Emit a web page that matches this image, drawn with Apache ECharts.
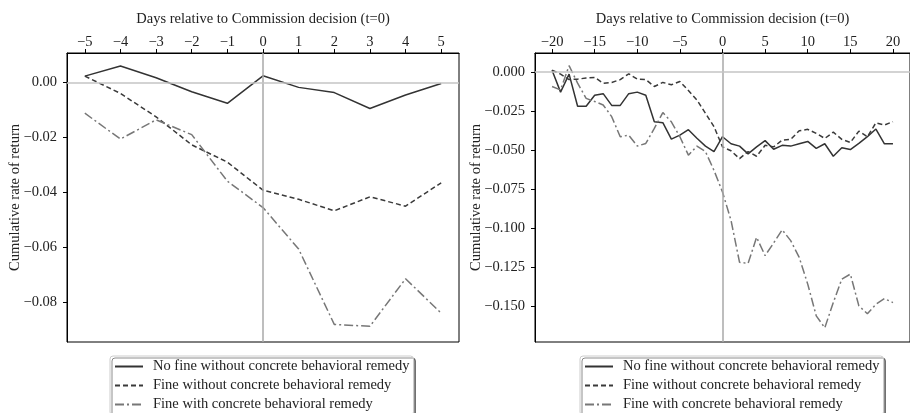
<!DOCTYPE html>
<html>
<head>
<meta charset="utf-8">
<script src="https://cdn.jsdelivr.net/npm/echarts@6/dist/echarts.min.js"></script>
<style>
  html, body { margin: 0; padding: 0; background: #fff; }
  #chart { width: 910px; height: 413px; }
</style>
</head>
<body>
<div id="chart"></div>
<script>
// series names
var names = [
  "No fine without concrete behavioral remedy",
  "Fine without concrete behavioral remedy",
  "Fine with concrete behavioral remedy"
];

// left panel: window -5..5
var daysShort = [-5, -4, -3, -2, -1, 0, 1, 2, 3, 4, 5];
var noFineShort = [0.0023, 0.0060, 0.0017, -0.0034, -0.0076, 0.0024, -0.0018, -0.0037, -0.0095, -0.0046, -0.0004];
var fineShort = [0.0023, -0.0040, -0.0125, -0.0227, -0.0290, -0.0392, -0.0425, -0.0467, -0.0416, -0.0450, -0.0365];
var remedyShort = [-0.0112, -0.0206, -0.0136, -0.0190, -0.0359, -0.0455, -0.0606, -0.0880, -0.0887, -0.0714, -0.0839];

// right panel: window -20..20
var daysLong = [-20, -19, -18, -17, -16, -15, -14, -13, -12, -11, -10, -9, -8, -7, -6, -5, -4, -3, -2, -1,
  0, 1, 2, 3, 4, 5, 6, 7, 8, 9, 10, 11, 12, 13, 14, 15, 16, 17, 18, 19, 20];
var noFineLong = [0.001, -0.013, -0.0015, -0.022, -0.022, -0.015, -0.014, -0.0215, -0.0215, -0.014,
  -0.013, -0.015, -0.032, -0.0325, -0.043, -0.0405, -0.037, -0.0425, -0.0475, -0.051,
  -0.0415, -0.046, -0.0475, -0.0525, -0.048, -0.044, -0.0495, -0.047, -0.0475, -0.046,
  -0.0445, -0.049, -0.046, -0.054, -0.0485, -0.0497, -0.0458, -0.0415, -0.0366, -0.046, -0.046];
var fineLong = [0.001, -0.0015, -0.005, -0.0047, -0.004, -0.0036, -0.0073, -0.0068, -0.005, -0.0013,
  -0.0047, -0.005, -0.0094, -0.0068, -0.0083, -0.0062, -0.012, -0.018, -0.0265, -0.035,
  -0.048, -0.0505, -0.0555, -0.051, -0.054, -0.047, -0.048, -0.0437, -0.0432, -0.0377,
  -0.0368, -0.0394, -0.0426, -0.0386, -0.0432, -0.0452, -0.0379, -0.0415, -0.0326, -0.034, -0.0319];
var remedyLong = [-0.0094, -0.0116, 0.0039, -0.0073, -0.017, -0.019, -0.0212, -0.0287, -0.0415, -0.0405,
  -0.0475, -0.0458, -0.0362, -0.0261, -0.032, -0.0415, -0.0533, -0.0475, -0.051, -0.063,
  -0.0768, -0.095, -0.1218, -0.1225, -0.1058, -0.1175, -0.1094, -0.101, -0.1079, -0.1186,
  -0.1357, -0.156, -0.1636, -0.1475, -0.1325, -0.1293, -0.1496, -0.1546, -0.1486, -0.145, -0.1475];

// tick labels
var xTicksShort = [-5, -4, -3, -2, -1, 0, 1, 2, 3, 4, 5];
var xTicksLong = [-20, -15, -10, -5, 0, 5, 10, 15, 20];
var yTicksShort = [0, -0.02, -0.04, -0.06, -0.08];
var yTicksLong = [0, -0.025, -0.05, -0.075, -0.1, -0.125, -0.15];

var FONT = "Liberation Serif";
var FS = 14.5;
var INK = "#222";
var styles = [
  { color: "#333", type: "solid" },
  { color: "#3a3a3a", type: [5, 3] },
  { color: "#777", type: [9, 3, 2, 3] }
];

function pairs(xs, ys) {
  return xs.map(function (x, i) { return [x, ys[i]]; });
}
function minus(v, d) {
  var s = Math.abs(v).toFixed(d);
  return (v < 0 ? "\u2212" : "") + s;
}

function xAxisFor(idx, min, max, ticks) {
  return {
    type: "value", gridIndex: idx, position: "top", min: min, max: max,
    name: "Days relative to Commission decision (t=0)",
    nameLocation: "middle", nameGap: 26,
    nameTextStyle: { fontFamily: FONT, fontSize: FS, color: INK },
    axisLine: { show: true, onZero: false, lineStyle: { color: "#000", width: 1 } },
    axisTick: { show: true, inside: false, length: 4, customValues: ticks, lineStyle: { color: "#000" } },
    axisLabel: { customValues: ticks, margin: 3, fontFamily: FONT, fontSize: FS, color: INK,
      formatter: function (v) { return minus(v, 0); } },
    splitLine: { show: false }
  };
}
function yAxisFor(idx, min, max, ticks, d) {
  return {
    type: "value", gridIndex: idx, min: min, max: max,
    name: "Cumulative rate of return",
    nameLocation: "middle", nameGap: idx === 0 ? 44 : 51, nameMoveOverlap: false,
    nameTextStyle: { fontFamily: FONT, fontSize: FS, color: INK },
    axisLine: { show: true, onZero: false, lineStyle: { color: "#000", width: 1 } },
    axisTick: { show: true, inside: false, length: 4, customValues: ticks, lineStyle: { color: "#000" } },
    axisLabel: { customValues: ticks, margin: 10, fontFamily: FONT, fontSize: FS, color: INK,
      formatter: function (v) { return minus(v, d); } },
    splitLine: { show: false }
  };
}

function refLines(idx) {
  return {
    type: "line", xAxisIndex: idx, yAxisIndex: idx, data: [], silent: true, z: 1,
    markLine: {
      silent: true, symbol: "none", label: { show: false },
      data: [
        { xAxis: 0, lineStyle: { color: "#a8a8a8", width: 1.5, type: "solid" } },
        { yAxis: 0, lineStyle: { color: "#c4c4c4", width: 1.5, type: "solid" } }
      ]
    }
  };
}

function lineSeries(idx, k, xs, ys) {
  return {
    name: names[k], type: "line", xAxisIndex: idx, yAxisIndex: idx,
    data: pairs(xs, ys), symbol: "none", showSymbol: false, z: 3,
    lineStyle: { color: styles[k].color, width: 1.5, type: styles[k].type },
    itemStyle: { color: styles[k].color },
    emphasis: { disabled: true }
  };
}

function legendFor(left) {
  return {
    orient: "vertical", left: left, top: 356, width: 320, height: 80, data: names,
    itemWidth: 28, itemHeight: 10, itemGap: 4,
    padding: [3, 4, 3, 4],
    backgroundColor: "#fff", borderColor: "#ccc", borderWidth: 1, borderRadius: 3,
    shadowColor: "rgba(0,0,0,0.45)", shadowOffsetX: 2, shadowOffsetY: 2, shadowBlur: 0,
    itemStyle: { opacity: 0, color: "transparent", borderWidth: 0 },
    textStyle: { fontFamily: FONT, fontSize: FS, color: INK, padding: [0, 0, 0, 5] }
  };
}

var chart = echarts.init(document.getElementById("chart"), null, { renderer: "canvas" });
chart.setOption({
  animation: false,
  backgroundColor: "#fff",
  grid: [
    { left: 67, right: 451, top: 53, bottom: 71, show: true, borderColor: "#000", borderWidth: 1 },
    { left: 535, right: -12, top: 53, bottom: 71, show: true, borderColor: "#000", borderWidth: 1 }
  ],
  xAxis: [
    xAxisFor(0, -5.5, 5.5, xTicksShort),
    xAxisFor(1, -22, 22, xTicksLong)
  ],
  yAxis: [
    yAxisFor(0, -0.0944, 0.0107, yTicksShort, 2),
    yAxisFor(1, -0.1727, 0.012, yTicksLong, 3)
  ],
  legend: [legendFor(110), legendFor(580)],
  series: [
    refLines(0),
    lineSeries(0, 0, daysShort, noFineShort),
    lineSeries(0, 1, daysShort, fineShort),
    lineSeries(0, 2, daysShort, remedyShort),
    refLines(1),
    lineSeries(1, 0, daysLong, noFineLong),
    lineSeries(1, 1, daysLong, fineLong),
    lineSeries(1, 2, daysLong, remedyLong)
  ]
});
</script>
</body>
</html>
